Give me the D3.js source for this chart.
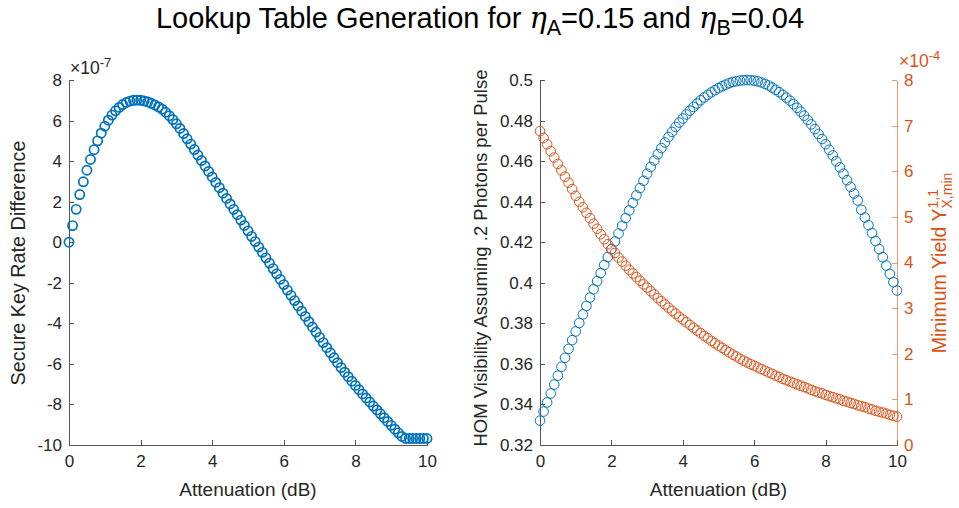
<!doctype html>
<html lang="en">
<head>
<meta charset="utf-8">
<title>Lookup Table Generation</title>
<script src="https://d3js.org/d3.v7.min.js"></script>
<style type="text/css">
  body { margin:0; background:#fff; }
  text { font-family: "Liberation Sans", Arial, sans-serif; fill:#262626; }
  .axis path, .axis line { stroke:#555; shape-rendering:crispEdges; }
  .axis text { font-size:17px; fill:#262626; }
  .axis.orange path, .axis.orange line { stroke:#D95319; stroke-opacity:.6; }
  .axis.orange text { fill:#D95319; }
</style>
</head>
<body>
<script type="text/javascript">

  // attenuation in dB (shared x values)
  var atten = [0,0.1,0.2,0.3,0.4,0.5,0.6,0.7,0.8,0.9,
    1,1.1,1.2,1.3,1.4,1.5,1.6,1.7,1.8,1.9,
    2,2.1,2.2,2.3,2.4,2.5,2.6,2.7,2.8,2.9,
    3,3.1,3.2,3.3,3.4,3.5,3.6,3.7,3.8,3.9,
    4,4.1,4.2,4.3,4.4,4.5,4.6,4.7,4.8,4.9,
    5,5.1,5.2,5.3,5.4,5.5,5.6,5.7,5.8,5.9,
    6,6.1,6.2,6.3,6.4,6.5,6.6,6.7,6.8,6.9,
    7,7.1,7.2,7.3,7.4,7.5,7.6,7.7,7.8,7.9,
    8,8.1,8.2,8.3,8.4,8.5,8.6,8.7,8.8,8.9,
    9,9.1,9.2,9.3,9.4,9.5,9.6,9.7,9.8,9.9,10];

  // secure key rate difference, x1e-7
  var keyRateDiff = [0,0.82,1.62,2.35,2.98,3.55,4.08,4.56,5.0,5.38,
    5.72,6.02,6.27,6.48,6.65,6.79,6.89,6.96,7.0,7.01,
    7.0,6.97,6.92,6.85,6.77,6.67,6.56,6.41,6.24,6.05,
    5.84,5.61,5.36,5.10,4.84,4.57,4.30,4.03,3.76,3.49,
    3.22,2.95,2.69,2.42,2.16,1.89,1.62,1.36,1.09,0.83,
    0.56,0.29,0.03,-0.24,-0.50,-0.77,-1.03,-1.30,-1.56,-1.83,
    -2.09,-2.36,-2.62,-2.88,-3.14,-3.40,-3.66,-3.92,-4.18,-4.43,
    -4.69,-4.95,-5.20,-5.45,-5.70,-5.94,-6.18,-6.41,-6.63,-6.85,
    -7.06,-7.27,-7.48,-7.68,-7.88,-8.08,-8.27,-8.46,-8.65,-8.84,
    -9.03,-9.22,-9.40,-9.58,-9.68,-9.68,-9.68,-9.68,-9.68,-9.68,-9.68];

  // HOM visibility assuming .2 photons per pulse
  var homVis = [0.3320,0.3365,0.3410,0.3454,0.3498,0.3542,0.3586,0.3630,0.3674,0.3717,
    0.3760,0.3802,0.3844,0.3886,0.3927,0.3968,0.4008,0.4048,0.4088,0.4127,
    0.4165,0.4204,0.4243,0.4281,0.4319,0.4357,0.4394,0.4431,0.4467,0.4503,
    0.4538,0.4571,0.4603,0.4634,0.4664,0.4692,0.4719,0.4744,0.4768,0.4790,
    0.4810,0.4830,0.4849,0.4867,0.4884,0.4900,0.4914,0.4927,0.4939,0.4950,
    0.4960,0.4969,0.4977,0.4984,0.4990,0.4994,0.4997,0.4999,0.5000,0.4999,
    0.4997,0.4993,0.4988,0.4981,0.4973,0.4963,0.4952,0.4940,0.4927,0.4913,
    0.4898,0.4881,0.4863,0.4844,0.4824,0.4803,0.4781,0.4758,0.4734,0.4709,
    0.4683,0.4656,0.4628,0.4599,0.4569,0.4538,0.4506,0.4473,0.4440,0.4406,
    0.4360,0.4322,0.4284,0.4245,0.4206,0.4166,0.4126,0.4085,0.4044,0.4003,0.3962];

  // minimum yield Y^{1,1}_{X,min}, x1e-4
  var minYield = [6.88,6.73,6.59,6.44,6.30,6.16,6.02,5.88,5.75,5.61,
    5.46,5.33,5.21,5.09,4.97,4.85,4.74,4.62,4.51,4.40,
    4.30,4.21,4.11,4.02,3.93,3.84,3.76,3.68,3.60,3.52,
    3.45,3.37,3.30,3.22,3.15,3.08,3.01,2.94,2.88,2.81,
    2.75,2.69,2.63,2.57,2.51,2.45,2.39,2.34,2.28,2.23,
    2.18,2.13,2.08,2.03,1.98,1.94,1.89,1.85,1.81,1.77,
    1.74,1.70,1.66,1.63,1.59,1.56,1.52,1.49,1.45,1.42,
    1.39,1.36,1.33,1.30,1.27,1.24,1.21,1.18,1.15,1.13,
    1.10,1.07,1.05,1.02,1.00,0.97,0.95,0.92,0.90,0.87,
    0.85,0.83,0.80,0.78,0.75,0.73,0.71,0.69,0.66,0.64,0.62];

  var xTicks = [0,2,4,6,8,10];
  var keyTicks = [-10,-8,-6,-4,-2,0,2,4,6,8];
  var homTicks = [0.32,0.34,0.36,0.38,0.4,0.42,0.44,0.46,0.48,0.5];
  var yieldTicks = [0,1,2,3,4,5,6,7,8];

  var blue = "#0072BD", orange = "#D95319";
  var W = 959, H = 508;
  var yTop = 80, yBot = 445;
  var plain = d => String(d);   // hyphen minus like the original

  var svg = d3.select("body").append("svg")
    .attr("width", W).attr("height", H);

  // ---------- left panel ----------
  var x1 = d3.scaleLinear().domain([0,10]).range([69,427]);
  var y1 = d3.scaleLinear().domain([-10,8]).range([yBot,yTop]);

  svg.append("g").attr("class","axis")
    .attr("transform","translate(0,"+yBot+")")
    .call(d3.axisBottom(x1).tickValues(xTicks).tickFormat(plain).tickSizeInner(-5).tickSizeOuter(0).tickPadding(10));

  svg.append("g").attr("class","axis")
    .attr("transform","translate(69,0)")
    .call(d3.axisLeft(y1).tickValues(keyTicks).tickFormat(plain).tickSizeInner(-5).tickSizeOuter(0).tickPadding(7));

  svg.append("g").selectAll("circle")
    .data(atten)
    .join("circle")
    .attr("cx", d=>x1(d))
    .attr("cy", (d,i)=>y1(keyRateDiff[i]))
    .attr("r", 4.6)
    .style("fill","none")
    .style("stroke", blue)
    .style("stroke-width", 1.7);

  var e1 = svg.append("text").attr("x",70).attr("y",74).style("font-size","17.5px");
  e1.append("tspan").text("\u00d710");
  e1.append("tspan").attr("dy",-7).style("font-size","13px").text("-7");

  svg.append("text")
    .attr("transform","translate(25,263) rotate(-90)")
    .attr("text-anchor","middle").style("font-size","19.8px")
    .text("Secure Key Rate Difference");

  svg.append("text")
    .attr("x",248).attr("y",496).attr("text-anchor","middle").style("font-size","19px")
    .text("Attenuation (dB)");

  // ---------- right panel ----------
  var x2 = d3.scaleLinear().domain([0,10]).range([540,897]);
  var y2 = d3.scaleLinear().domain([0.32,0.5]).range([yBot,yTop]);
  var y3 = d3.scaleLinear().domain([0,8]).range([yBot,yTop]);

  svg.append("g").attr("class","axis")
    .attr("transform","translate(0,"+yBot+")")
    .call(d3.axisBottom(x2).tickValues(xTicks).tickFormat(plain).tickSizeInner(-5).tickSizeOuter(0).tickPadding(10));

  svg.append("g").attr("class","axis")
    .attr("transform","translate(540,0)")
    .call(d3.axisLeft(y2).tickValues(homTicks).tickFormat(plain).tickSizeInner(-5).tickSizeOuter(0).tickPadding(7));

  svg.append("g").attr("class","axis orange")
    .attr("transform","translate(897,0)")
    .call(d3.axisRight(y3).tickValues(yieldTicks).tickFormat(plain).tickSizeInner(-5).tickSizeOuter(0).tickPadding(7));

  svg.append("g").selectAll("circle")
    .data(atten)
    .join("circle")
    .attr("cx", d=>x2(d))
    .attr("cy", (d,i)=>y2(homVis[i]))
    .attr("r", 4.8)
    .style("fill","none")
    .style("stroke", blue)
    .style("stroke-width", 1);

  svg.append("g").selectAll("circle")
    .data(atten)
    .join("circle")
    .attr("cx", d=>x2(d))
    .attr("cy", (d,i)=>y3(minYield[i]))
    .attr("r", 4.8)
    .style("fill","none")
    .style("stroke", orange)
    .style("stroke-width", 1);

  var e2 = svg.append("text").attr("x",899).attr("y",67).style("font-size","17.5px").style("fill",orange);
  e2.append("tspan").style("fill",orange).text("\u00d710");
  e2.append("tspan").attr("dy",-7).style("font-size","13px").style("fill",orange).text("-4");

  svg.append("text")
    .attr("transform","translate(487,258) rotate(-90)")
    .attr("text-anchor","middle").style("font-size","18.5px")
    .text("HOM Visibility Assuming .2 Photons per Pulse");

  var rl = svg.append("text")
    .attr("transform","translate(946,263) rotate(-90)")
    .attr("text-anchor","middle").style("font-size","19.5px").style("fill",orange);
  rl.append("tspan").style("fill",orange).text("Minimum Yield Y");
  var sup = rl.append("tspan").attr("dy",-8).style("font-size","14px").style("fill",orange).text("1,1");
  var supW = sup.node().getComputedTextLength();
  rl.append("tspan").attr("dx",-supW).attr("dy",14).style("font-size","14px").style("fill",orange).text("X,min");

  svg.append("text")
    .attr("x",718.5).attr("y",496).attr("text-anchor","middle").style("font-size","19px")
    .text("Attenuation (dB)");

  // ---------- title ----------
  var t = svg.append("text").attr("x",480).attr("y",28).attr("text-anchor","middle").style("font-size","29px").style("fill","#000");
  t.append("tspan").style("fill","#000").text("Lookup Table Generation for ");
  t.append("tspan").style("fill","#000").style("font-family","'DejaVu Serif', serif").style("font-style","italic").text("\u03b7");
  t.append("tspan").attr("dy",7).style("fill","#000").style("font-size","21.5px").text("A");
  t.append("tspan").attr("dy",-7).style("fill","#000").text("=0.15 and ");
  t.append("tspan").style("fill","#000").style("font-family","'DejaVu Serif', serif").style("font-style","italic").text("\u03b7");
  t.append("tspan").attr("dy",7).style("fill","#000").style("font-size","21.5px").text("B");
  t.append("tspan").attr("dy",-7).style("fill","#000").text("=0.04");

</script>
</body>
</html>
